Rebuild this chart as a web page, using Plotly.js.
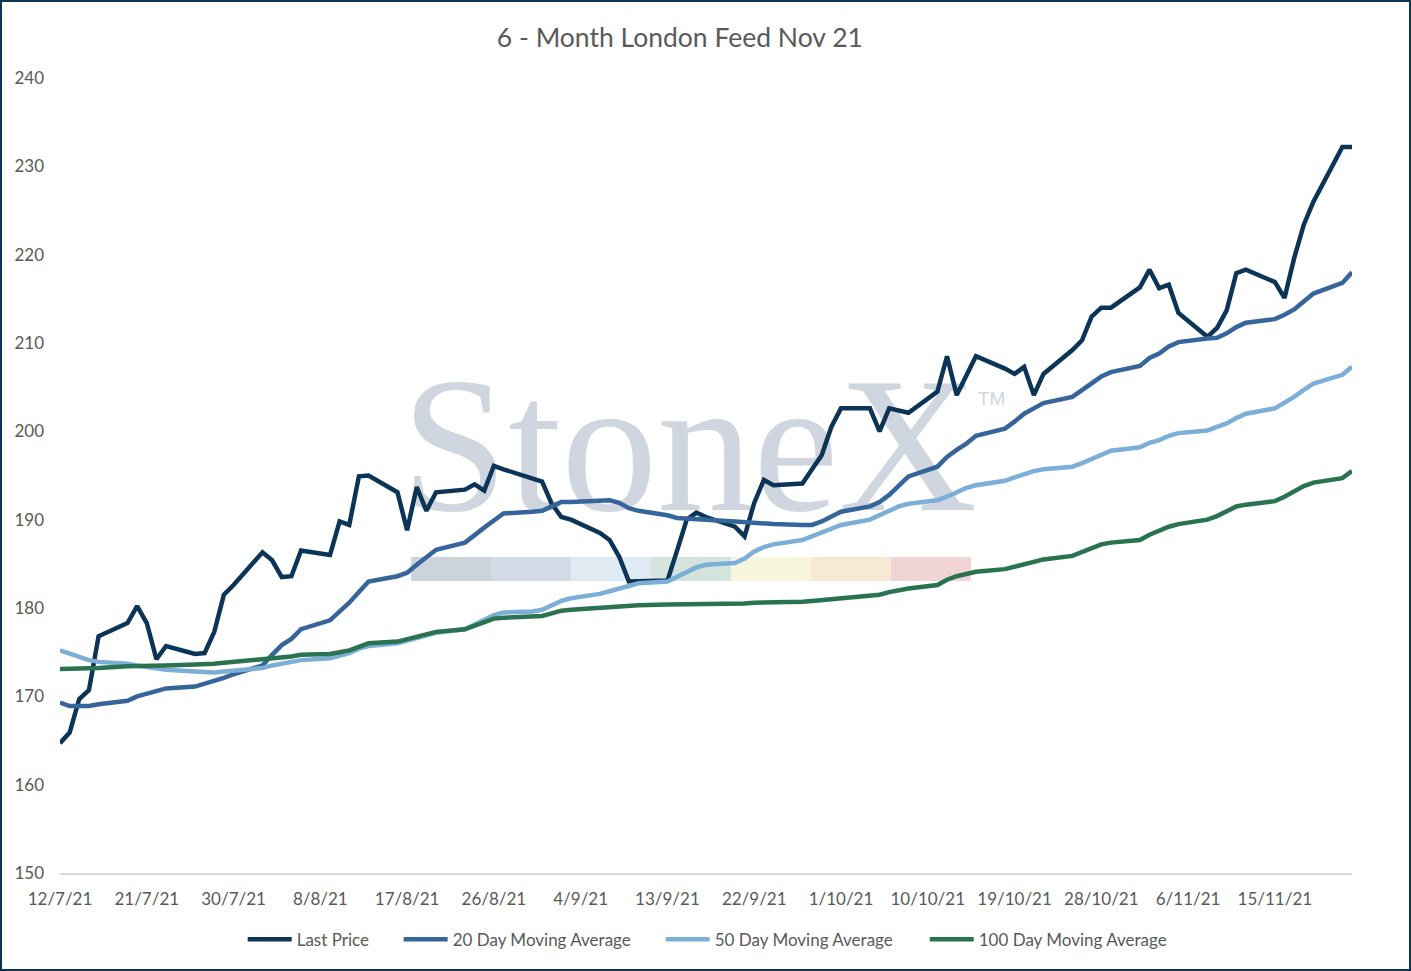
<!DOCTYPE html>
<html>
<head>
<meta charset="utf-8">
<script src="https://cdn.plot.ly/plotly-3.0.1.min.js"></script>
<style>
  html, body { margin: 0; padding: 0; background: #fff; }
  #wrap { position: relative; width: 1411px; height: 971px; }
  #chart { width: 1411px; height: 971px; }
  #frame {
    position: absolute; left: 0; top: 0; width: 1411px; height: 971px;
    box-sizing: border-box; border: 2px solid #0d3452; pointer-events: none;
  }
</style>
</head>
<body>
<div id="wrap">
  <div id="chart"></div>
  <div id="frame"></div>
</div>
<script>
// trading days, 12 Jul 2021 - 23 Nov 2021
const dates = [
  "2021-07-12","2021-07-13","2021-07-14","2021-07-15","2021-07-16",
  "2021-07-19","2021-07-20","2021-07-21","2021-07-22","2021-07-23",
  "2021-07-26","2021-07-27","2021-07-28","2021-07-29","2021-07-30",
  "2021-08-02","2021-08-03","2021-08-04","2021-08-05","2021-08-06",
  "2021-08-09","2021-08-10","2021-08-11","2021-08-12","2021-08-13",
  "2021-08-16","2021-08-17","2021-08-18","2021-08-19","2021-08-20",
  "2021-08-23","2021-08-24","2021-08-25","2021-08-26","2021-08-27",
  "2021-08-30","2021-08-31","2021-09-01","2021-09-02","2021-09-03",
  "2021-09-06","2021-09-07","2021-09-08","2021-09-09","2021-09-10",
  "2021-09-13","2021-09-14","2021-09-15","2021-09-16","2021-09-17",
  "2021-09-20","2021-09-21","2021-09-22","2021-09-23","2021-09-24",
  "2021-09-27","2021-09-28","2021-09-29","2021-09-30","2021-10-01",
  "2021-10-04","2021-10-05","2021-10-06","2021-10-07","2021-10-08",
  "2021-10-11","2021-10-12","2021-10-13","2021-10-14","2021-10-15",
  "2021-10-18","2021-10-19","2021-10-20","2021-10-21","2021-10-22",
  "2021-10-25","2021-10-26","2021-10-27","2021-10-28","2021-10-29",
  "2021-11-01","2021-11-02","2021-11-03","2021-11-04","2021-11-05",
  "2021-11-08","2021-11-09","2021-11-10","2021-11-11","2021-11-12",
  "2021-11-15","2021-11-16","2021-11-17","2021-11-18","2021-11-19",
  "2021-11-22","2021-11-23"
];

const lastPrice = [
  164.7,165.9,169.7,170.7,176.8,178.3,180.2,178.3,174.2,175.7,174.8,174.9,177.3,181.5,182.6,
  186.3,185.4,183.5,183.6,186.5,186.0,189.8,189.4,194.9,195.0,193.1,188.8,193.7,191.0,193.1,
  193.4,194.0,193.3,196.1,195.7,194.7,194.3,
  191.8,190.3,190.0,188.5,187.7,185.8,183.0,183.0,183.1,186.5,190.0,190.8,190.3,189.2,188.1,
  191.9,194.5,193.9,194.1,195.7,197.3,200.5,
  202.6,202.6,200.0,202.6,202.4,202.1,204.5,208.5,204.1,206.3,208.5,207.1,206.5,207.3,204.1,
  206.5,209.2,210.3,213.0,214.0,214.0,
  216.3,218.3,216.2,216.6,213.4,210.7,211.7,213.7,217.9,218.3,216.9,215.1,219.6,223.4,226.0,
  232.2,232.2
];

const ma20 = [
  169.3,168.9,168.9,168.9,169.1,169.5,170.0,170.3,170.5,170.9,171.1,171.4,171.7,172.1,172.5,
  173.5,174.7,175.8,176.5,177.6,178.6,179.6,180.6,181.8,183.0,183.6,184.0,184.9,185.8,186.6,
  187.4,188.3,189.1,189.9,190.7,190.9,191.0,
  191.5,192.0,192.0,192.2,192.2,191.9,191.3,191.0,190.5,190.2,190.1,190.1,190.0,189.8,189.7,
  189.6,189.5,189.5,189.4,189.4,189.8,190.3,
  190.9,191.5,192.0,192.8,193.9,194.9,196.0,197.1,197.9,198.6,199.5,200.3,201.1,202.0,202.6,
  203.2,203.9,204.7,205.5,206.2,206.7,
  207.4,208.3,208.8,209.6,210.1,210.5,210.6,211.1,211.8,212.3,212.7,213.2,213.8,214.7,215.6,
  216.8,218.0
];

const ma50 = [
  175.2,174.8,174.4,174.1,173.9,173.7,173.5,173.3,173.1,173.0,172.8,172.7,172.7,172.8,172.9,
  173.2,173.5,173.7,173.9,174.1,174.3,174.6,174.9,175.4,175.7,176.0,176.3,176.6,177.0,177.2,
  177.6,178.1,178.7,179.2,179.5,179.6,179.8,
  180.3,180.8,181.1,181.6,181.9,182.2,182.6,182.8,183.0,183.5,184.1,184.6,184.9,185.1,185.6,
  186.4,186.9,187.2,187.7,188.1,188.5,189.0,
  189.4,190.0,190.5,191.0,191.5,191.8,192.2,192.6,193.1,193.6,193.9,194.4,194.8,195.2,195.5,
  195.7,196.0,196.4,196.9,197.4,197.8,
  198.2,198.7,199.0,199.5,199.8,200.1,200.5,200.9,201.5,202.0,202.6,203.2,203.9,204.7,205.4,
  206.4,207.3
];

const ma100 = [
  173.1,173.1,173.1,173.1,173.2,173.4,173.4,173.5,173.5,173.5,173.6,173.6,173.7,173.8,173.9,
  174.1,174.2,174.4,174.5,174.7,174.8,175.0,175.2,175.6,176.0,176.2,176.5,176.8,177.1,177.3,
  177.6,178.0,178.4,178.8,178.9,179.0,179.1,
  179.4,179.7,179.8,180.0,180.1,180.2,180.2,180.3,180.4,180.4,180.4,180.5,180.5,180.5,180.5,
  180.6,180.6,180.6,180.7,180.8,180.9,181.0,
  181.1,181.3,181.5,181.8,182.0,182.2,182.6,183.2,183.6,183.9,184.1,184.4,184.7,185.0,185.3,
  185.5,185.9,186.3,186.8,187.2,187.4,
  187.7,188.3,188.8,189.2,189.5,190.0,190.4,190.9,191.5,191.7,192.1,192.6,193.2,193.8,194.2,
  194.7,195.5
];

const tickDates = [
  "2021-07-12","2021-07-21","2021-07-30","2021-08-08","2021-08-17",
  "2021-08-26","2021-09-04","2021-09-13","2021-09-22","2021-10-01",
  "2021-10-10","2021-10-19","2021-10-28","2021-11-06","2021-11-15"
];
const tickText = [
  "12/7/21","21/7/21","30/7/21","8/8/21","17/8/21",
  "26/8/21","4/9/21","13/9/21","22/9/21","1/10/21",
  "10/10/21","19/10/21","28/10/21","6/11/21","15/11/21"
];

const seriesNames = ["Last Price", "20 Day Moving Average", "50 Day Moving Average", "100 Day Moving Average"];
const seriesColors = ["#0b3457", "#36659b", "#7bafd8", "#2a7350"];
const bandColors = ["#cdd3db", "#d3dce6", "#dfeaf3", "#d4e3db", "#f7f6dd", "#f8e9d4", "#f1d4d6"];
// left edge of each legend entry, as a fraction of the plot width
const legendX = [0.1414, 0.2621, 0.4649, 0.6693];

const FONT = "Lato, 'Open Sans', sans-serif";
const GREY = "#595959";
const WM = "#cfd6df";

const traces = [lastPrice, ma20, ma50, ma100].map((ys, i) => ({
  type: "scatter",
  mode: "lines",
  name: seriesNames[i],
  legend: i === 0 ? "legend" : "legend" + (i + 1),
  x: dates,
  y: ys,
  line: { color: seriesColors[i], width: 4.5 },
  hoverinfo: "x+y+name"
}));

// StoneX watermark behind the lines
const shapes = bandColors.map((c, i) => ({
  type: "rect", layer: "below", xref: "paper", yref: "paper",
  x0: 0.2717 + i * 0.0619, x1: 0.2717 + (i + 1) * 0.0619,
  y0: 0.3673, y1: 0.3975,
  fillcolor: c, line: { width: 0 }
}));
shapes.push({
  type: "rect", layer: "below", xref: "paper", yref: "paper",
  x0: 0.267, x1: 0.707, y0: 0.434, y1: 0.694,
  fillcolor: "rgba(0,0,0,0)", line: { width: 0 },
  label: {
    text: "StoneX", textposition: "middle center",
    font: { family: "'Liberation Serif', 'DejaVu Serif', serif", size: 192, color: WM }
  }
});
shapes.push({
  type: "rect", layer: "below", xref: "paper", yref: "paper",
  x0: 0.706, x1: 0.736, y0: 0.58, y1: 0.62,
  fillcolor: "rgba(0,0,0,0)", line: { width: 0 },
  label: {
    text: "TM", textposition: "middle center",
    font: { family: "'Liberation Sans', sans-serif", size: 19, color: WM }
  }
});

const legendBase = {
  orientation: "h",
  xanchor: "left",
  y: -0.084, yanchor: "middle",
  font: { family: FONT, size: 17, color: GREY },
  itemwidth: 44,
  bgcolor: "rgba(0,0,0,0)"
};

const layout = {
  width: 1411,
  height: 971,
  margin: { l: 60, r: 59, t: 78, b: 98 },
  paper_bgcolor: "#ffffff",
  plot_bgcolor: "#ffffff",
  font: { family: FONT, color: GREY, size: 17 },
  title: {
    text: "6 - Month London Feed Nov 21",
    font: { family: FONT, size: 26.5, color: GREY },
    x: 0.4798, xref: "paper", xanchor: "center",
    y: 0.961, yref: "container", yanchor: "middle"
  },
  xaxis: {
    type: "date",
    range: ["2021-07-12", "2021-11-23"],
    tickvals: tickDates,
    ticktext: tickText,
    showgrid: false,
    zeroline: false,
    showline: true,
    linecolor: "#d9d9d9",
    linewidth: 1.5,
    ticks: "",
    ticklabelstandoff: 10,
    tickfont: { family: FONT, size: 17, color: GREY }
  },
  yaxis: {
    range: [150, 240],
    tick0: 150,
    dtick: 10,
    showgrid: false,
    zeroline: false,
    showline: false,
    ticks: "",
    ticklabelstandoff: 15,
    tickfont: { family: FONT, size: 17, color: GREY }
  },
  showlegend: true,
  legend: Object.assign({}, legendBase, { x: legendX[0] }),
  legend2: Object.assign({}, legendBase, { x: legendX[1] }),
  legend3: Object.assign({}, legendBase, { x: legendX[2] }),
  legend4: Object.assign({}, legendBase, { x: legendX[3] }),
  shapes: shapes
};

Plotly.newPlot("chart", traces, layout, { displayModeBar: false, staticPlot: true });
</script>
</body>
</html>
